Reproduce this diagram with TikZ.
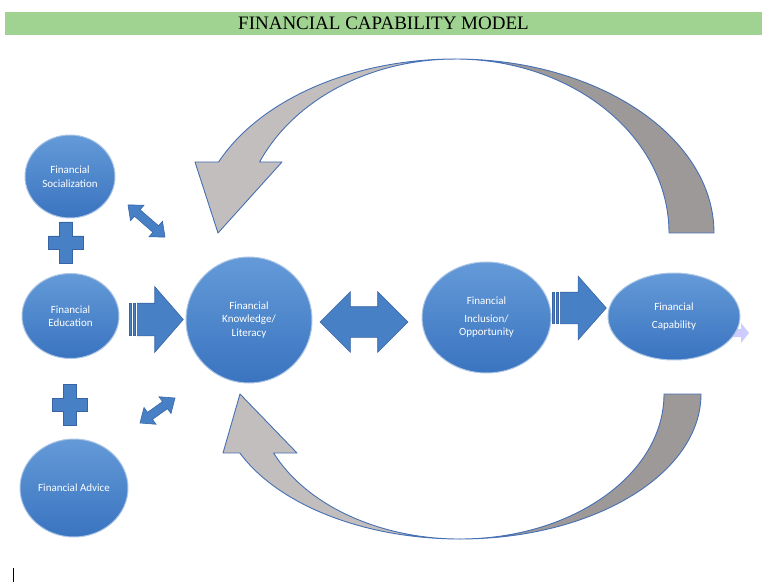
\documentclass[tikz,border=0pt]{standalone}
\usepackage{fontspec}
\setmainfont{Liberation Serif}
\newfontfamily\calib{Carlito}
\usetikzlibrary{shapes.geometric,shapes.arrows}
\definecolor{titlegreen}{RGB}{160,210,146}
\definecolor{bluefill}{RGB}{72,128,198}
\definecolor{blueline}{RGB}{56,100,165}
\definecolor{bubbletop}{RGB}{100,154,216}
\definecolor{bubblebot}{RGB}{58,116,192}
\definecolor{greylight}{RGB}{194,190,190}
\definecolor{greydark}{RGB}{158,153,153}
\definecolor{loopline}{RGB}{70,112,180}
\tikzset{
  bubble/.style={ellipse, draw=white!55!bluefill, line width=1pt, top color=bubbletop, bottom color=bubblebot,
    text=white, align=center, inner sep=0pt, font=\calib\fontsize{11}{13.5}\selectfont},
  blockarrow/.style={single arrow, fill=bluefill, draw=blueline, line width=0.6pt, inner xsep=0pt},
  twowayarrow/.style={double arrow, fill=bluefill, draw=blueline, line width=0.6pt, inner xsep=0pt},
  stripe/.style={fill=bluefill, draw=blueline, line width=0.6pt},
  plusmark/.style={fill=bluefill, draw=blueline, line width=0.6pt},
  loopback/.style={fill=greylight, draw=loopline, line width=0.9pt, line join=round},
  loopfront/.style={fill=greydark, draw=loopline, line width=0.9pt, line join=round}
}
\begin{document}
\begin{tikzpicture}[x=1pt,y=-1pt]
\useasboundingbox (0,0) rectangle (768,585);

\node[fill=titlegreen, minimum width=757, minimum height=23, inner sep=0pt, font=\fontsize{19}{22}\selectfont] (title) at (383.5,23.5) {FINANCIAL CAPABILITY MODEL};

\draw[loopfront] (714,233) arc[start angle=0, end angle=-90, x radius=259, y radius=174]
  arc[start angle=-90, end angle=0, x radius=214, y radius=174] -- cycle;
\draw[loopback] (455,59) arc[start angle=-90, end angle=-155.9, x radius=259, y radius=174]
  -- (195,162) -- (218,233) -- (282,162) -- (259.6,162)
  arc[start angle=-155.9, end angle=-90, x radius=214, y radius=174] -- cycle;

\draw[loopfront] (701,394) arc[start angle=0, end angle=90, x radius=241, y radius=145]
  arc[start angle=90, end angle=0, x radius=204, y radius=145] -- cycle;
\draw[loopback] (460,539) arc[start angle=90, end angle=156, x radius=241, y radius=145]
  -- (223,453) -- (240,394) -- (297,453) -- (273.6,453)
  arc[start angle=156, end angle=90, x radius=204, y radius=145] -- cycle;

\fill[blue!20!white] (731,329) -- (741,329) -- (741,323) -- (749,333) -- (741,343) -- (741,337) -- (731,337) -- cycle;

\node[bubble, minimum width=90, minimum height=83] (soc) at (70,176.5) {Financial\\Socialization};
\node[bubble, minimum width=97, minimum height=85] (edu) at (70.5,316) {Financial\\Education};
\node[bubble, minimum width=108, minimum height=98] (adv) at (74,488) {Financial Advice};
\node[bubble, minimum width=126, minimum height=126] (know) at (249,320) {Financial\\Knowledge/\\Literacy};
\node[bubble, minimum width=129, minimum height=111] (incl) at (486.5,317.5) {Financial\\[4pt]Inclusion/\\Opportunity};
\node[bubble, minimum width=132, minimum height=87] (cap) at (674,316.5) {Financial\\[4pt]Capability};

\foreach \cx/\cy in {66/242.5, 70/404.5}
  \draw[plusmark, shift={(\cx,\cy)}] (-6.5,-20.5) -- (6.5,-20.5) -- (6.5,-6.5) -- (17.5,-6.5) -- (17.5,6.5)
    -- (6.5,6.5) -- (6.5,20.5) -- (-6.5,20.5) -- (-6.5,6.5) -- (-17.5,6.5) -- (-17.5,-6.5) -- (-6.5,-6.5) -- cycle;

\draw[stripe] (129,303.5) rectangle (131.5,335.5);
\draw[stripe] (133,303.5) rectangle (135.5,335.5);
\node[blockarrow, minimum height=46, inner ysep=16, single arrow head extend=16.5, single arrow tip angle=98,
  anchor=tail] (edu2know) at (137,319.5) {};

\draw[stripe] (552,292.5) rectangle (554.5,323.5);
\draw[stripe] (556,292.5) rectangle (558.5,323.5);
\node[blockarrow, minimum height=46, inner ysep=15.5, single arrow head extend=16, single arrow tip angle=97,
  anchor=tail] (incl2cap) at (560,308) {};

\node[twowayarrow, minimum height=88, inner ysep=15, double arrow head extend=15, double arrow tip angle=90] (know2incl) at (364,322) {};
\node[twowayarrow, minimum height=49, inner ysep=4, double arrow head extend=6, double arrow tip angle=80, rotate=-41] (soc2know) at (146.5,221) {};
\node[twowayarrow, minimum height=43, inner ysep=4, double arrow head extend=6, double arrow tip angle=80, rotate=35.5] (adv2know) at (157.5,410.5) {};

\draw[line width=0.8pt] (13,568) -- (13,582);
\end{tikzpicture}
\end{document}
